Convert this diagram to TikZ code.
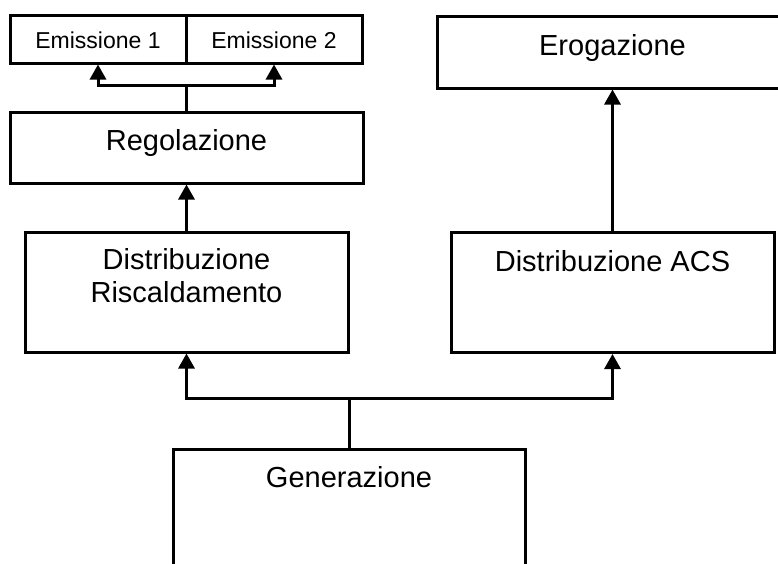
\documentclass[tikz,border=0pt]{standalone}
\usepackage{fontspec}
\setmainfont{Liberation Sans}
\usetikzlibrary{arrows.meta,positioning}

\begin{document}
\begin{tikzpicture}[x=1pt,y=-1pt,
	box/.style={draw, line width=3pt, inner sep=0pt},
	lbl/.style={font=\fontsize{29}{33}\selectfont, inner sep=0pt, anchor=base, align=center},
	small/.style={lbl, font=\fontsize{23}{27}\selectfont},
	wire/.style={line width=3pt},
	arr/.style={wire, -{Triangle[length=15pt,width=16pt]}}]
	\clip (0,0) rectangle (778,563);

	% boxes
	\node[box, minimum width=176pt, minimum height=48pt] (e1) at (98,39) {};
	\node[box, minimum width=176pt, minimum height=48pt] (e2) at (274,39) {};
	\node[box, minimum width=353pt, minimum height=71pt] (reg) at (186.5,147.5) {};
	\node[box, minimum width=351pt, minimum height=72pt] (ero) at (612.5,52) {};
	\node[box, minimum width=323pt, minimum height=120pt] (dr) at (186.5,292) {};
	\node[box, minimum width=323pt, minimum height=120pt] (acs) at (612.5,292.5) {};
	\node[box, minimum width=352pt, minimum height=140pt] (gen) at (349,519) {};

	% texts
	\node[small] (te1) at ([yshift=-35pt]e1.north) {Emissione 1};
	\node[small] (te2) at ([yshift=-35pt]e2.north) {Emissione 2};
	\node[lbl] (treg) at ([yshift=-40pt]reg.north) {Regolazione};
	\node[lbl] (tero) at ([yshift=-41pt]ero.north) {Erogazione};
	\node[lbl] (tdr) at ([yshift=-72pt]dr.north) {Distribuzione\\Riscaldamento};
	\node[lbl] (tacs) at ([yshift=-40pt]acs.north) {Distribuzione ACS};
	\node[lbl] (tgen) at ([yshift=-40pt]gen.north) {Generazione};

	% connectors
	\draw[wire] (reg.north) -- ++(0,-25) coordinate (j1);
	\draw[arr] (j1) -| (e1.south);
	\draw[arr] (j1) -| (e2.south);
	\draw[arr] (dr.north) -- (reg.south);
	\draw[arr] (acs.north) -- (ero.south);
	\draw[wire] (gen.north) -- ++(0,-49) coordinate (j2);
	\draw[arr] (j2) -| (dr.south);
	\draw[arr] (j2) -| (acs.south);
\end{tikzpicture}
\end{document}
